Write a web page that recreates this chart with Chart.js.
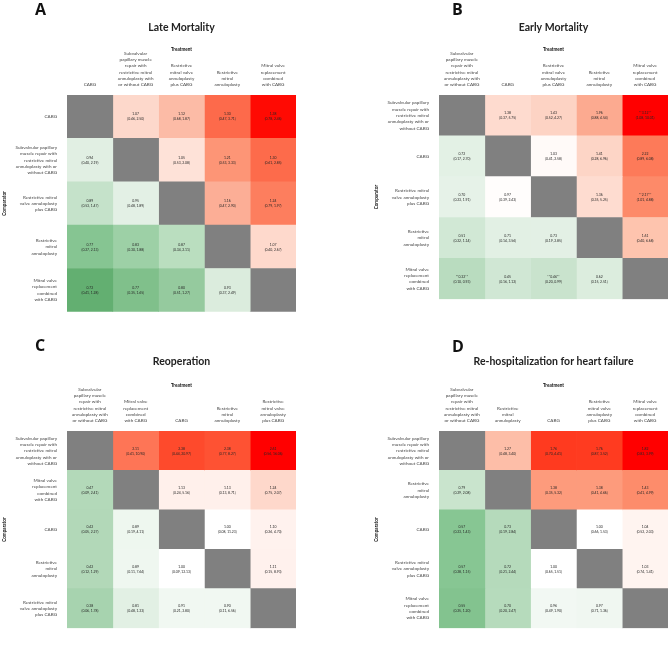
<!DOCTYPE html>
<html>
<head>
<meta charset="utf-8">
<title>League tables</title>
<script src="https://cdn.jsdelivr.net/npm/chart.js@4.4.1/dist/chart.umd.min.js"></script>
<style>
  html, body { margin: 0; padding: 0; background: #fff; }
  body { width: 669px; height: 654px; position: relative; overflow: hidden; }
  .panel { position: absolute; }
  .letter {
    position: absolute;
    font: 700 16px "Open Sans", sans-serif;
    line-height: 16px;
    color: #111;
  }
</style>
</head>
<body>
<div class="panel" style="left:0;top:0;width:334px;height:325px"><canvas id="chartA"></canvas></div>
<div class="panel" style="left:334px;top:0;width:335px;height:325px"><canvas id="chartB"></canvas></div>
<div class="panel" style="left:0;top:334px;width:334px;height:320px"><canvas id="chartC"></canvas></div>
<div class="panel" style="left:334px;top:334px;width:335px;height:320px"><canvas id="chartD"></canvas></div>

<div class="letter" style="left:35px;top:1px">A</div>
<div class="letter" style="left:452px;top:1px">B</div>
<div class="letter" style="left:35px;top:337px">C</div>
<div class="letter" style="left:452px;top:338px">D</div>

<script>
// ─────────────────────────────────────────────
//  Treatment names (tick labels, already wrapped)
// ─────────────────────────────────────────────
const COL_LINES = {
  cabg:     ["CABG"],
  sub:      ["Subvalvular", "papillary muscle", "repair with", "restrictive mitral", "annuloplasty with", "or without CABG"],
  rmvaCabg: ["Restrictive", "mitral valve", "annuloplasty", "plus CABG"],
  rma:      ["Restrictive", "mitral", "annuloplasty"],
  mvr:      ["Mitral valve", "replacement", "combined", "with CABG"],
};

const ROW_LINES = {
  cabg:     ["CABG"],
  sub:      ["Subvalvular papillary", "muscle repair with", "restrictive mitral", "annuloplasty with or", "without CABG"],
  rmvaCabg: ["Restrictive mitral", "valve annuloplasty", "plus CABG"],
  rma:      ["Restrictive", "mitral", "annuloplasty"],
  mvr:      ["Mitral valve", "replacement", "combined", "with CABG"],
};

// ─────────────────────────────────────────────
//  A · Late mortality   (rows = comparator, cols = treatment)
// ─────────────────────────────────────────────
const ORDER_A = ["cabg", "sub", "rmvaCabg", "rma", "mvr"];
const OR_A = [
  [null, 1.07, 1.12, 1.30, 1.38],
  [0.94, null, 1.05, 1.21, 1.30],
  [0.89, 0.95, null, 1.16, 1.24],
  [0.77, 0.83, 0.87, null, 1.07],
  [0.72, 0.77, 0.80, 0.93, null],
];
const LO_A = [
  [null, 0.46, 0.68, 0.47, 0.78],
  [0.40, null, 0.53, 0.53, 0.61],
  [0.53, 0.48, null, 0.47, 0.79],
  [0.27, 0.30, 0.34, null, 0.40],
  [0.41, 0.35, 0.51, 0.37, null],
];
const HI_A = [
  [null, 2.50, 1.87, 3.71, 2.46],
  [2.19, null, 2.08, 3.33, 2.85],
  [1.47, 1.89, null, 2.90, 1.97],
  [2.13, 1.88, 2.11, null, 2.67],
  [1.28, 1.65, 1.27, 2.49, null],
];

// ─────────────────────────────────────────────
//  B · Early mortality
// ─────────────────────────────────────────────
const ORDER_B = ["sub", "cabg", "rmvaCabg", "rma", "mvr"];
const OR_B = [
  [null, 1.38, 1.43, 1.96, 3.12],
  [0.72, null, 1.03, 1.41, 2.22],
  [0.70, 0.97, null, 1.36, 2.17],
  [0.51, 0.71, 0.73, null, 1.61],
  [0.32, 0.45, 0.46, 0.62, null],
];
const LO_B = [
  [null, 0.37, 0.52, 0.88, 1.08],
  [0.17, null, 0.41, 0.28, 0.89],
  [0.23, 0.39, null, 0.35, 1.01],
  [0.22, 0.14, 0.19, null, 0.40],
  [0.10, 0.16, 0.20, 0.15, null],
];
const HI_B = [
  [null, 5.75, 4.27, 4.54, 10.01],
  [2.70, null, 2.58, 6.96, 6.08],
  [1.91, 2.43, null, 5.25, 4.88],
  [1.14, 3.56, 2.85, null, 6.68],
  [0.93, 1.12, 0.99, 2.51, null],
];
const SIG_B = [
  [0, 0, 0, 0, 1],
  [0, 0, 0, 0, 0],
  [0, 0, 0, 0, 1],
  [0, 0, 0, 0, 0],
  [1, 0, 1, 0, 0],
];

// ─────────────────────────────────────────────
//  C · Reoperation
// ─────────────────────────────────────────────
const ORDER_C = ["sub", "mvr", "cabg", "rma", "rmvaCabg"];
const OR_C = [
  [null, 2.11, 2.38, 2.38, 2.61],
  [0.47, null, 1.13, 1.13, 1.24],
  [0.42, 0.89, null, 1.00, 1.10],
  [0.42, 0.89, 1.00, null, 1.11],
  [0.38, 0.81, 0.91, 0.90, null],
];
const LO_C = [
  [null, 0.41, 0.44, 0.77, 0.56],
  [0.09, null, 0.24, 0.13, 0.75],
  [0.05, 0.19, null, 0.08, 0.26],
  [0.12, 0.11, 0.09, null, 0.15],
  [0.06, 0.48, 0.21, 0.11, null],
];
const HI_C = [
  [null, 10.90, 20.97, 8.27, 16.06],
  [2.41, null, 5.16, 8.71, 2.07],
  [2.27, 4.11, null, 11.23, 4.70],
  [1.29, 7.64, 12.13, null, 8.93],
  [1.78, 1.33, 3.80, 6.56, null],
];

// ─────────────────────────────────────────────
//  D · Re-hospitalization for heart failure
// ─────────────────────────────────────────────
const ORDER_D = ["sub", "rma", "cabg", "rmvaCabg", "mvr"];
const OR_D = [
  [null, 1.27, 1.76, 1.76, 1.82],
  [0.79, null, 1.38, 1.38, 1.43],
  [0.57, 0.73, null, 1.00, 1.04],
  [0.57, 0.72, 1.00, null, 1.03],
  [0.55, 0.70, 0.96, 0.97, null],
];
const LO_D = [
  [null, 0.48, 0.70, 0.87, 0.83],
  [0.29, null, 0.35, 0.41, 0.41],
  [0.23, 0.19, null, 0.66, 0.52],
  [0.28, 0.21, 0.65, null, 0.74],
  [0.25, 0.20, 0.49, 0.71, null],
];
const HI_D = [
  [null, 3.40, 4.41, 3.52, 3.99],
  [2.08, null, 5.32, 4.66, 4.99],
  [1.43, 2.84, null, 1.53, 2.03],
  [1.15, 2.44, 1.51, null, 1.41],
  [1.20, 2.47, 1.90, 1.36, null],
];

// ─────────────────────────────────────────────
//  Cell fills (style)
// ─────────────────────────────────────────────
const GRAY = "#808080";

const FILL_A = [
  [null,      "#fdd8cb", "#fcbba6", "#fd6a4b", "#ff0a03"],
  ["#e1efe3", null,      "#fee2d8", "#fd9576", "#fd6b4b"],
  ["#c5e2ca", "#e3f0e5", null,      "#fcae96", "#fd7e5e"],
  ["#86c592", "#9dd0a6", "#badebf", null,      "#fed9cc"],
  ["#63af71", "#80c08b", "#95ca9e", "#dbecdd", null     ],
];
const FILL_B = [
  [null,      "#fedbcf", "#fdd3c4", "#fcaa90", "#ff0000"],
  ["#e3f1e5", null,      "#fffaf8", "#fdd5c6", "#fd7a59"],
  ["#e6f2e8", "#fffdfc", null,      "#fedcd0", "#fd8a69"],
  ["#d1e8d5", "#e2f0e4", "#e3f0e5", null,      "#fec4ae"],
  ["#b9dcbf", "#d0e7d4", "#c9e3cd", "#dcedde", null     ],
];
const FILL_C = [
  [null,      "#fe7556", "#fe4a2c", "#fe5233", "#ff0000"],
  ["#b3d9b9", null,      "#fff0eb", "#fff0eb", "#fed8cb"],
  ["#b2d8b8", "#eef7ef", null,      "#ffffff", "#fff2ee"],
  ["#b2d8b8", "#eff7f0", "#ffffff", null,      "#fff1ed"],
  ["#a7d3af", "#e2f0e4", "#f1f8f2", "#f1f8f2", null     ],
];
const FILL_D = [
  [null,      "#fdbea8", "#ff3a1f", "#ff3b20", "#ff0000"],
  ["#c9e4cd", null,      "#fd9b7c", "#fd9b7c", "#fd8c6b"],
  ["#87c693", "#b5dabb", null,      "#ffffff", "#fff4f0"],
  ["#87c693", "#b5dabb", "#ffffff", null,      "#fff4f0"],
  ["#83c38f", "#b6dbbc", "#f2f8f3", "#f0f7f1", null     ],
];

// ─────────────────────────────────────────────
//  Chart global defaults
// ─────────────────────────────────────────────
const FONT = "Lato, 'Open Sans', sans-serif";
Chart.defaults.font.family = FONT;
Chart.defaults.color = "#3a3a3a";
Chart.defaults.animation = false;

// ── Plugin: OR + CI text in every off-diagonal cell ──
const cellLabels = {
  id: "cellLabels",
  afterDatasetsDraw(chart) {
    const { ctx } = chart;
    ctx.save();
    ctx.font = "3.4px " + FONT;
    ctx.fillStyle = "#262626";
    ctx.textAlign = "center";
    ctx.textBaseline = "middle";
    chart.data.datasets.forEach((ds, j) => {
      chart.getDatasetMeta(j).data.forEach((bar, i) => {
        const txt = ds.cellText[i];
        if (!txt) return;
        const cx = (bar.x + bar.base) / 2;
        ctx.fillText(txt[0], cx, bar.y - 2.3);
        ctx.fillText(txt[1], cx, bar.y + 2.7);
      });
    });
    ctx.restore();
  },
};

const fmt = (v) => v.toFixed(2);

// ─────────────────────────────────────────────
//  One league table = floating bars on a 0..n column axis
// ─────────────────────────────────────────────
function leagueTable(canvasId, p) {
  const n = p.order.length;
  const sig = p.sig || p.or.map((r) => r.map(() => 0));

  const datasets = p.order.map((_, j) => ({
    xAxisID: "x",
    yAxisID: "y",
    data: p.order.map(() => [j, j + 1]),
    backgroundColor: p.order.map((_, i) => (i === j ? GRAY : p.fill[i][j])),
    borderWidth: 0,
    borderSkipped: false,
    barPercentage: 1,
    categoryPercentage: 1,
    grouped: false,
    cellText: p.order.map((_, i) => {
      const v = p.or[i][j];
      if (v == null) return null;
      const s = sig[i][j] ? "**" + fmt(v) + "**" : fmt(v);
      return [s, "(" + fmt(p.lo[i][j]) + ", " + fmt(p.hi[i][j]) + ")"];
    }),
  }));

  return new Chart(document.getElementById(canvasId), {
    type: "bar",
    data: { labels: p.order.map((k) => ROW_LINES[k]), datasets },
    plugins: [cellLabels],
    options: {
      indexAxis: "y",
      responsive: true,
      maintainAspectRatio: false,
      layout: { padding: p.pad },
      plugins: {
        legend: { display: false },
        tooltip: { enabled: false },
        title: {
          display: true,
          text: p.title,
          fullSize: false,
          color: "#222",
          font: { size: 10.5, weight: "bold", family: FONT },
          padding: { top: 21, bottom: 0 },
        },
      },
      scales: {
        x: { type: "linear", min: 0, max: n, display: false },
        xTop: {
          axis: "x",
          type: "category",
          position: "top",
          labels: p.order.map((k) => COL_LINES[k]),
          offset: true,
          grid: { display: false, drawTicks: false },
          border: { display: false },
          ticks: {
            autoSkip: false,
            maxRotation: 0,
            padding: 7,
            color: "#444",
            font: { size: 4.6, lineHeight: 1.38 },
          },
          title: {
            display: true,
            text: "Treatment",
            color: "#111",
            font: { size: 4.6, weight: "bold" },
            padding: { top: p.treatPad, bottom: 0 },
          },
          afterFit: (s) => { s.height = p.headH; },
        },
        y: {
          type: "category",
          offset: true,
          grid: { display: false, drawTicks: false },
          border: { display: false },
          ticks: {
            autoSkip: false,
            padding: 10,
            color: "#444",
            font: { size: 4.6, lineHeight: 1.38 },
          },
          title: {
            display: true,
            text: "Comparator",
            color: "#111",
            font: { size: 4.6, weight: "bold" },
            padding: { top: 2, bottom: 0 },
          },
          afterFit: (s) => { s.width = 67; },
        },
      },
    },
  });
}

// ─────────────────────────────────────────────
//  Build the four panels
// ─────────────────────────────────────────────
leagueTable("chartA", {
  title: "Late Mortality", order: ORDER_A, or: OR_A, lo: LO_A, hi: HI_A, fill: FILL_A,
  pad: { left: 0, right: 38, top: 0, bottom: 8 }, headH: 61.4, treatPad: 12.7,
});
leagueTable("chartB", {
  title: "Early Mortality", order: ORDER_B, or: OR_B, lo: LO_B, hi: HI_B, sig: SIG_B, fill: FILL_B,
  pad: { left: 38, right: 1, top: 0, bottom: 8 }, headH: 61.4, treatPad: 12.7,
});
leagueTable("chartC", {
  title: "Reoperation", order: ORDER_C, or: OR_C, lo: LO_C, hi: HI_C, fill: FILL_C,
  pad: { left: 0, right: 38, top: 0, bottom: 1 }, headH: 63.4, treatPad: 14.7,
});
leagueTable("chartD", {
  title: "Re-hospitalization for heart failure", order: ORDER_D, or: OR_D, lo: LO_D, hi: HI_D, fill: FILL_D,
  pad: { left: 38, right: 1, top: 0, bottom: 1 }, headH: 63.4, treatPad: 14.7,
});
</script>
</body>
</html>
